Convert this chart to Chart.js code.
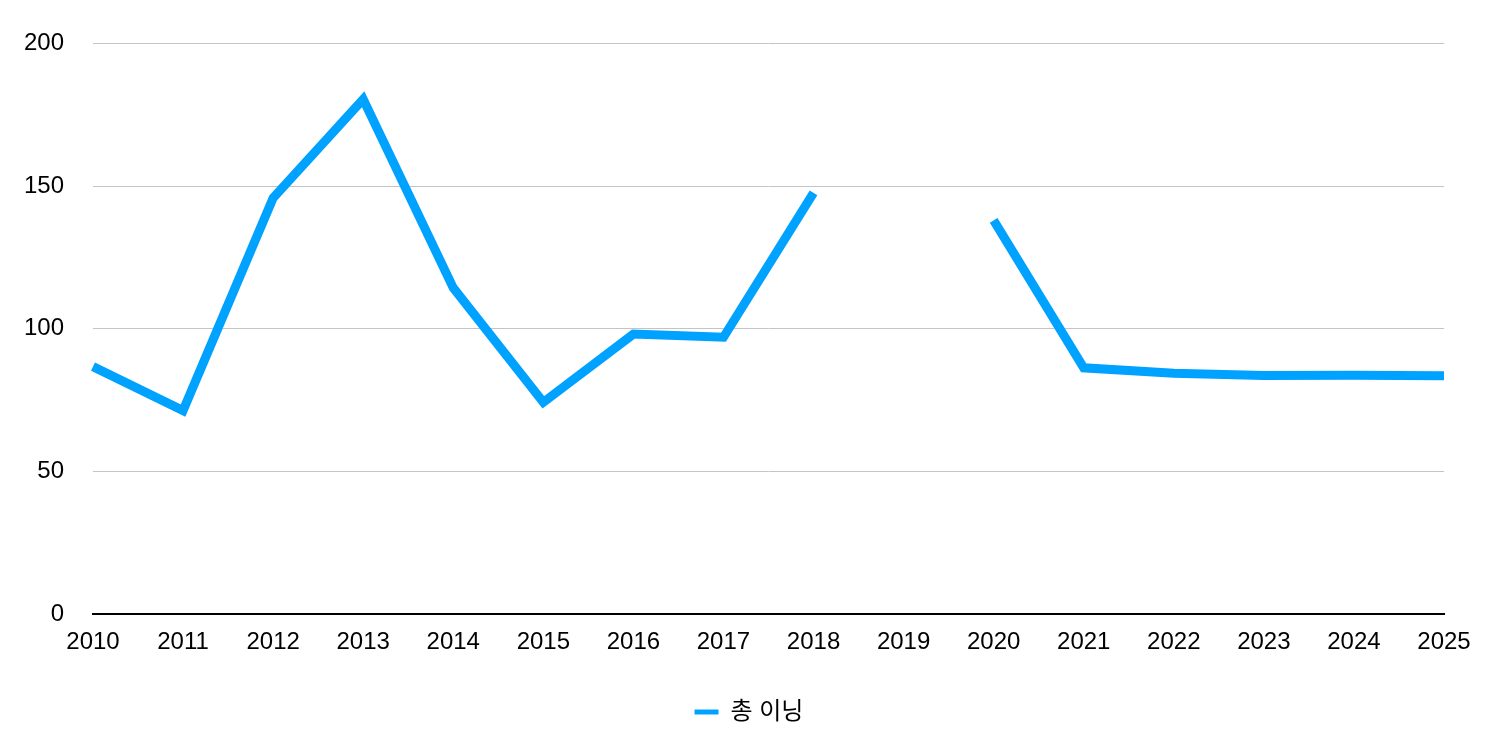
<!DOCTYPE html>
<html>
<head>
<meta charset="utf-8">
<script src="https://cdn.jsdelivr.net/npm/chart.js@4"></script>
<style>
html,body{margin:0;padding:0;background:#fff;}
#wrap{width:1510px;height:754px;position:relative;}
</style>
</head>
<body>
<div id="wrap"><canvas id="c" width="1510" height="754"></canvas></div>
<script>
const categories = ['2010','2011','2012','2013','2014','2015','2016','2017','2018','2019','2020','2021','2022','2023','2024','2025'];
const seriesName = '총 이닝';
const innings = [86.7, 71.3, 145.8, 180.4, 114.3, 74.2, 98.1, 97.0, 147.6, null, 138.0, 86.3, 84.4, 83.6, 83.7, 83.5];
const yTicks = [0, 50, 100, 150, 200];

const FONT = "'Liberation Sans', Arial, 'Noto Sans CJK KR', sans-serif";
const BLUE = '#00a2ff';

new Chart(document.getElementById('c'), {
  type: 'line',
  data: {
    labels: categories,
    datasets: [{
      label: seriesName,
      data: innings,
      borderColor: BLUE,
      backgroundColor: BLUE,
      borderWidth: 9,
      pointRadius: 0,
      pointHoverRadius: 0,
      tension: 0,
      spanGaps: false,
      borderCapStyle: 'butt',
      borderJoinStyle: 'miter'
    }]
  },
  options: {
    responsive: false,
    animation: false,
    devicePixelRatio: 1,
    layout: { padding: { left: 0, right: 12, top: 42, bottom: 20 } },
    plugins: {
      tooltip: { enabled: false },
      legend: {
        position: 'bottom',
        labels: {
          font: { family: FONT, size: 24 },
          color: '#000',
          boxWidth: 24,
          boxHeight: 5,
          padding: 16,
          generateLabels: (chart) => chart.data.datasets.map((d, i) => ({
            text: d.label,
            fillStyle: d.borderColor,
            strokeStyle: d.borderColor,
            lineWidth: 0,
            datasetIndex: i,
            fontColor: '#000'
          }))
        }
      }
    },
    scales: {
      x: {
        type: 'category',
        offset: false,
        grid: { display: false, drawTicks: false },
        border: { display: true, color: '#000', width: 2 },
        ticks: {
          font: { family: FONT, size: 24 },
          color: '#000',
          padding: 14,
          maxRotation: 0,
          autoSkip: false
        },
        afterFit: (s) => { s.height = 70; }
      },
      y: {
        min: 0,
        max: 200,
        afterBuildTicks: (s) => { s.ticks = yTicks.map(v => ({ value: v })); },
        grid: { color: '#c4c4c4', lineWidth: 1, drawTicks: false },
        border: { display: false },
        ticks: {
          font: { family: FONT, size: 24 },
          color: '#000',
          padding: 29
        },
        afterFit: (s) => { s.width = 93; }
      },
      yRight: {
        position: 'right',
        display: true,
        min: 0,
        max: 200,
        grid: { display: false, drawTicks: false },
        border: { display: false },
        ticks: { display: false },
        afterFit: (s) => { s.width = 54; }
      }
    }
  }
});
</script>
</body>
</html>
